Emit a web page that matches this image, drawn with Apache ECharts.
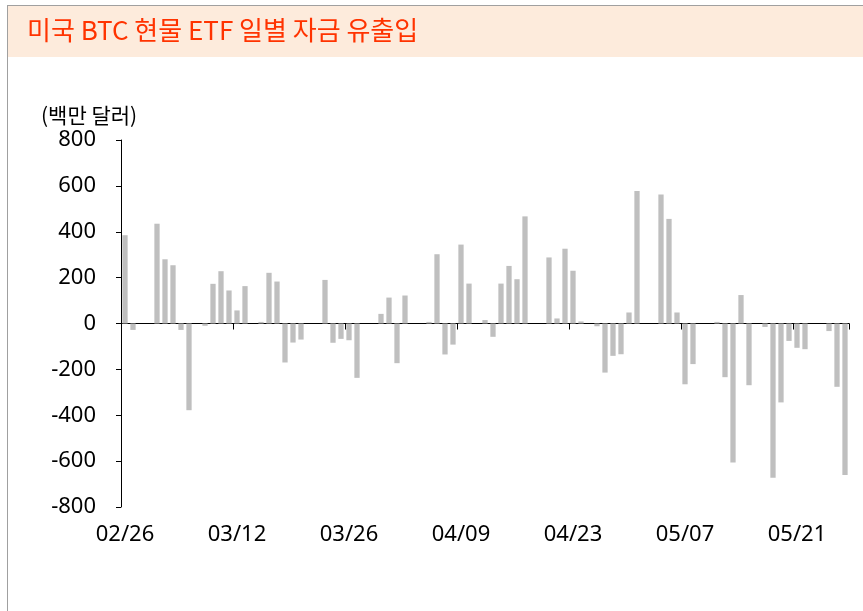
<!DOCTYPE html>
<html>
<head>
<meta charset="utf-8">
<script src="https://cdn.jsdelivr.net/npm/echarts@6/dist/echarts.min.js"></script>
<style>
html,body{margin:0;padding:0;background:#fff;}
#chart{width:863px;height:611px;}
</style>
</head>
<body>
<div id="chart"></div>
<script>
var titleText = '미국 BTC 현물 ETF 일별 자금 유출입';
var unitText = '(백만 달러)';
var categories = [
 '02/26','02/27','02/28',
 '03/01','03/02','03/03','03/04','03/05','03/06','03/07','03/08','03/09','03/10',
 '03/11','03/12','03/13','03/14','03/15','03/16','03/17','03/18','03/19','03/20',
 '03/21','03/22','03/23','03/24','03/25','03/26','03/27','03/28','03/29','03/30','03/31',
 '04/01','04/02','04/03','04/04','04/05','04/06','04/07','04/08','04/09','04/10',
 '04/11','04/12','04/13','04/14','04/15','04/16','04/17','04/18','04/19','04/20',
 '04/21','04/22','04/23','04/24','04/25','04/26','04/27','04/28','04/29','04/30',
 '05/01','05/02','05/03','05/04','05/05','05/06','05/07','05/08','05/09','05/10',
 '05/11','05/12','05/13','05/14','05/15','05/16','05/17','05/18','05/19','05/20',
 '05/21','05/22','05/23','05/24','05/25','05/26','05/27'
];
var flows = [
 385, -28, null, null, 435, 280, 254, -28, -378, null,
 -10, 173, 228, 144, 57, 163, null, 7, 221, 183,
 -170, -83, -70, null, null, 190, -84, -67, -73, -237,
 null, null, 42, 113, -173, 122, null, null, 7, 302,
 -135, -92, 344, 174, null, 15, -58, 174, 251, 193,
 467, null, null, 288, 22, 326, 230, 9, null, -12,
 -214, -141, -134, 48, 578, null, null, 562, 456, 48,
 -265, -177, null, null, 7, -234, -606, 124, -269, null,
 -15, -673, -344, -76, -106, -112, null, null, -33, -276,
 -661
];
var yMin = -800, yMax = 800, yStep = 200;

var chart = echarts.init(document.getElementById('chart'), null, {renderer:'canvas'});
var numFont = '"Noto Sans", sans-serif';
var krFont = '"Noto Sans CJK KR", "Noto Sans", sans-serif';
chart.setOption({
  animation: false,
  backgroundColor: '#ffffff',
  graphic: [
    {type:'rect', shape:{x:8, y:6, width:855, height:51}, style:{fill:'#fdebdc'}, z:-1},
    {type:'line', shape:{x1:7, y1:5.5, x2:863, y2:5.5}, style:{stroke:'#a0a0a0', lineWidth:1}},
    {type:'line', shape:{x1:7.5, y1:5, x2:7.5, y2:611}, style:{stroke:'#a0a0a0', lineWidth:1}},
    {type:'text', left:27, top:17, style:{text:titleText, fill:'#ff3300', font:'26px ' + krFont}},
    {type:'text', left:41, top:105, style:{text:unitText, fill:'#000', font:'21px ' + krFont}}
  ],
  grid: {left:121, right:14, top:140, bottom:104, containLabel:false},
  xAxis: [
    {
      type:'category', data:categories, boundaryGap:true, position:'bottom',
      axisLine:{show:false, onZero:false},
      axisTick:{show:false},
      axisLabel:{interval:13, margin:17, color:'#000', fontSize:22, fontFamily:numFont}
    },
    {
      type:'category', data:categories, boundaryGap:true, position:'bottom',
      axisLine:{show:true, onZero:true, lineStyle:{color:'#000', width:1}},
      axisTick:{show:true, interval:13, length:6, lineStyle:{color:'#000'}},
      axisLabel:{show:false}
    }
  ],
  yAxis: {
    type:'value', min:yMin, max:yMax, interval:yStep,
    axisLine:{show:true, lineStyle:{color:'#000', width:1}},
    axisTick:{show:true, length:5, lineStyle:{color:'#000'}},
    axisLabel:{margin:25, color:'#000', fontSize:22, fontFamily:numFont},
    splitLine:{show:false}
  },
  series: [{
    type:'bar', xAxisIndex:0, data:flows, barWidth:'66%',
    itemStyle:{color:'#bfbfbf'}
  }]
});
</script>
</body>
</html>
